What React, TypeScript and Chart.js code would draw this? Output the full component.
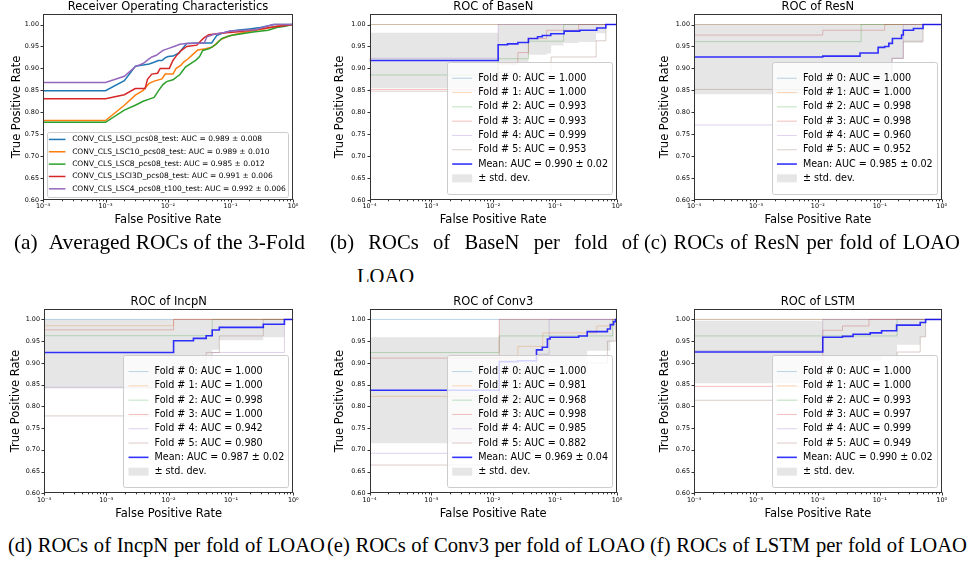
import React, { useEffect, useRef } from 'react';
import { Chart, registerables } from 'chart.js';

Chart.register(...registerables);

const FONT = '"DejaVu Sans", "Liberation Sans", sans-serif';
const SERIF = '"Liberation Serif", "Times New Roman", serif';
Chart.defaults.font.family = FONT;
Chart.defaults.color = '#000';

// ---------- axis ticks ----------
const xTickValues = [1e-4, 1e-3, 1e-2, 1e-1, 1];
const xTickLabels = ['10⁻⁴', '10⁻³', '10⁻²', '10⁻¹', '10⁰'];
const xMinorMultipliers = [2, 3, 4, 5, 6, 7, 8, 9];
const yTickValues = [0.6, 0.65, 0.7, 0.75, 0.8, 0.85, 0.9, 0.95, 1.0];
const yTickLabels = ['0.60', '0.65', '0.70', '0.75', '0.80', '0.85', '0.90', '0.95', '1.00'];
const X_MIN = 1e-4;
const X_MAX = 1;
const Y_MIN = 0.6;
const Y_MAX = 1.024;

// ---------- (a) averaged ROCs, [fpr, tpr] ----------
const lsciMean = [[1e-4, 0.849], [0.001, 0.849], [0.002, 0.872], [0.003, 0.905], [0.004, 0.908], [0.005, 0.910], [0.006, 0.914], [0.007, 0.918], [0.008, 0.918], [0.009, 0.924], [0.010, 0.927], [0.012, 0.928], [0.015, 0.935], [0.017, 0.945], [0.020, 0.957], [0.030, 0.958], [0.050, 0.958], [0.060, 0.975], [0.080, 0.982], [0.10, 0.985], [0.15, 0.988], [0.20, 0.990], [0.30, 0.993], [0.50, 1.0], [1.0, 1.0]];
const lsc10Mean = [[1e-4, 0.781], [0.001, 0.781], [0.002, 0.816], [0.003, 0.839], [0.004, 0.850], [0.005, 0.866], [0.006, 0.871], [0.008, 0.876], [0.009, 0.887], [0.012, 0.887], [0.0135, 0.900], [0.016, 0.907], [0.018, 0.915], [0.021, 0.922], [0.025, 0.932], [0.030, 0.942], [0.040, 0.945], [0.052, 0.949], [0.067, 0.964], [0.086, 0.972], [0.14, 0.980], [0.23, 0.986], [0.37, 0.991], [0.62, 0.998], [1.0, 1.0]];
const lsc8Mean = [[1e-4, 0.777], [0.001, 0.777], [0.002, 0.805], [0.003, 0.816], [0.004, 0.825], [0.005, 0.830], [0.006, 0.834], [0.0071, 0.850], [0.0083, 0.863], [0.0095, 0.870], [0.012, 0.874], [0.0155, 0.886], [0.019, 0.903], [0.023, 0.911], [0.028, 0.919], [0.032, 0.927], [0.036, 0.941], [0.046, 0.945], [0.059, 0.955], [0.072, 0.968], [0.10, 0.975], [0.23, 0.983], [0.40, 0.987], [0.55, 0.993], [0.75, 0.996], [1.0, 1.0]];
const lsci3dMean = [[1e-4, 0.831], [0.001, 0.831], [0.002, 0.840], [0.003, 0.854], [0.0043, 0.854], [0.0047, 0.875], [0.0055, 0.887], [0.0068, 0.889], [0.0075, 0.900], [0.0105, 0.900], [0.012, 0.918], [0.0135, 0.928], [0.016, 0.940], [0.020, 0.950], [0.029, 0.953], [0.033, 0.962], [0.038, 0.970], [0.045, 0.977], [0.07, 0.980], [0.12, 0.983], [0.25, 0.988], [0.45, 0.994], [0.7, 0.997], [1.0, 1.0]];
const lsc4Mean = [[1e-4, 0.868], [0.001, 0.868], [0.002, 0.882], [0.003, 0.904], [0.004, 0.911], [0.0048, 0.920], [0.0055, 0.926], [0.0065, 0.930], [0.0083, 0.941], [0.010, 0.945], [0.0125, 0.950], [0.0155, 0.955], [0.020, 0.957], [0.038, 0.958], [0.042, 0.972], [0.055, 0.978], [0.08, 0.982], [0.10, 0.985], [0.25, 0.988], [0.48, 1.0], [1.0, 1.0]];
const avgNames = ['CONV_CLS_LSCI_pcs08_test', 'CONV_CLS_LSC10_pcs08_test', 'CONV_CLS_LSC8_pcs08_test', 'CONV_CLS_LSCI3D_pcs08_test', 'CONV_CLS_LSC4_pcs08_t100_test'];
const avgAuc = [0.989, 0.989, 0.985, 0.991, 0.992];
const avgAucStd = [0.008, 0.010, 0.012, 0.006, 0.006];

// ---------- (b) BaseN ----------
const baseNFold0 = [[1e-4, 1.0], [1, 1.0]];
const baseNFold1 = [[1e-4, 1.0], [1, 1.0]];
const baseNFold2 = [[1e-4, 0.885], [0.012, 0.922], [0.037, 0.962], [0.137, 1.0], [1, 1.0]];
const baseNFold3 = [[1e-4, 0.852], [0.012, 0.911], [0.025, 0.936], [0.037, 0.968], [0.073, 0.987], [0.24, 1.0], [1, 1.0]];
const baseNFold4 = [[1e-4, 0.923], [0.012, 1.0], [1, 1.0]];
const baseNFold5 = [[1e-4, 0.848], [0.012, 0.891], [0.086, 0.926], [0.46, 0.963], [0.66, 1.0], [1, 1.0]];
const baseNMean = [[1e-4, 0.918], [0.012, 0.954], [0.017, 0.956], [0.025, 0.959], [0.037, 0.968], [0.052, 0.972], [0.062, 0.975], [0.085, 0.979], [0.14, 0.985], [0.25, 0.987], [0.47, 0.992], [0.66, 1.0], [1, 1.0]];
const baseNBand = [[1e-4, 0.855, 0.981], [0.012, 0.907, 1], [0.025, 0.914, 1], [0.037, 0.931, 1], [0.073, 0.934, 1], [0.086, 0.952, 1], [0.137, 0.958, 1], [0.24, 0.960, 1], [0.46, 0.980, 1], [0.66, 1, 1], [1, 1, 1]];
const baseNAuc = [1.000, 1.000, 0.993, 0.993, 0.999, 0.953];
const baseNMeanAuc = [0.990, 0.02];

// ---------- (c) ResN ----------
const resNFold0 = [[1e-4, 1.0], [1, 1.0]];
const resNFold1 = [[1e-4, 1.0], [1, 1.0]];
const resNFold2 = [[1e-4, 0.961], [0.05, 1.0], [1, 1.0]];
const resNFold3 = [[1e-4, 0.976], [0.012, 0.987], [0.12, 1.0], [1, 1.0]];
const resNFold4 = [[1e-4, 0.771], [0.155, 0.923], [0.24, 1.0], [1, 1.0]];
const resNFold5 = [[1e-4, 0.852], [0.16, 0.923], [0.24, 0.962], [0.5, 1.0], [1, 1.0]];
const resNMean = [[1e-4, 0.926], [0.012, 0.928], [0.048, 0.935], [0.094, 0.948], [0.12, 0.950], [0.14, 0.957], [0.16, 0.968], [0.225, 0.976], [0.24, 0.987], [0.35, 0.991], [0.5, 1.0], [1, 1.0]];
const resNBand = [[1e-4, 0.841, 1], [0.1, 0.855, 1], [0.155, 0.922, 1], [0.24, 0.958, 1], [0.5, 1, 1], [1, 1, 1]];
const resNAuc = [1.000, 1.000, 0.998, 0.998, 0.960, 0.952];
const resNMeanAuc = [0.985, 0.02];

// ---------- (d) IncpN ----------
const incpNFold0 = [[1e-4, 1.0], [1, 1.0]];
const incpNFold1 = [[1e-4, 0.9855], [0.012, 1.0], [1, 1.0]];
const incpNFold2 = [[1e-4, 0.9626], [0.05, 1.0], [1, 1.0]];
const incpNFold3 = [[1e-4, 0.976], [0.012, 1.0], [1, 1.0]];
const incpNFold4 = [[1e-4, 0.844], [0.025, 0.88], [0.05, 0.924], [0.72, 1.0], [1, 1.0]];
const incpNFold5 = [[1e-4, 0.778], [0.012, 0.889], [0.04, 0.924], [0.065, 0.962], [0.33, 1.0], [1, 1.0]];
const incpNMean = [[1e-4, 0.924], [0.012, 0.951], [0.025, 0.9565], [0.04, 0.9626], [0.05, 0.9756], [0.065, 0.9817], [0.33, 0.989], [0.72, 1.0], [1, 1.0]];
const incpNBand = [[1e-4, 0.841, 1], [0.012, 0.886, 1], [0.025, 0.896, 1], [0.04, 0.908, 1], [0.05, 0.930, 1], [0.065, 0.952, 1], [0.33, 0.959, 1], [0.72, 1, 1], [1, 1, 1]];
const incpNAuc = [1.000, 1.000, 0.998, 1.000, 0.942, 0.980];
const incpNMeanAuc = [0.987, 0.02];

// ---------- (e) Conv3 ----------
const conv3Fold0 = [[1e-4, 1.0], [1, 1.0]];
const conv3Fold1 = [[1e-4, 0.823], [0.0125, 0.912], [0.025, 0.938], [0.063, 0.969], [0.47, 0.985], [0.85, 1.0], [1, 1.0]];
const conv3Fold2 = [[1e-4, 0.924], [0.0125, 0.962], [0.85, 1.0], [1, 1.0]];
const conv3Fold3 = [[1e-4, 0.911], [0.0125, 1.0], [1, 1.0]];
const conv3Fold4 = [[1e-4, 0.692], [0.0125, 0.86], [0.05, 0.92], [0.08, 1.0], [1, 1.0]];
const conv3Fold5 = [[1e-4, 0.665], [0.0125, 0.70], [0.05, 0.80], [0.08, 0.88], [0.33, 0.90], [0.7, 0.95], [0.95, 1.0], [1, 1.0]];
const conv3Mean = [[1e-4, 0.837], [0.0125, 0.903], [0.025, 0.905], [0.05, 0.930], [0.062, 0.936], [0.075, 0.955], [0.083, 0.959], [0.24, 0.962], [0.33, 0.972], [0.70, 0.978], [0.78, 0.988], [0.88, 0.995], [0.95, 1.0], [1, 1.0]];
const conv3Band = [[1e-4, 0.715, 0.959], [0.0125, 0.80, 1], [0.05, 0.865, 1], [0.08, 0.89, 1], [0.33, 0.928, 1], [0.78, 0.95, 1], [0.9, 0.975, 1], [0.95, 1, 1], [1, 1, 1]];
const conv3Auc = [1.000, 0.981, 0.968, 0.998, 0.985, 0.882];
const conv3MeanAuc = [0.969, 0.04];

// ---------- (f) LSTM ----------
const lstmFold0 = [[1e-4, 1.0], [1, 1.0]];
const lstmFold1 = [[1e-4, 1.0], [1, 1.0]];
const lstmFold2 = [[1e-4, 0.962], [0.19, 1.0], [1, 1.0]];
const lstmFold3 = [[1e-4, 0.846], [0.012, 0.975], [0.025, 0.985], [0.067, 1.0], [1, 1.0]];
const lstmFold4 = [[1e-4, 0.928], [0.012, 1.0], [1, 1.0]];
const lstmFold5 = [[1e-4, 0.814], [0.19, 0.925], [0.45, 0.96], [0.55, 1.0], [1, 1.0]];
const lstmMean = [[1e-4, 0.925], [0.012, 0.959], [0.025, 0.961], [0.037, 0.966], [0.07, 0.969], [0.107, 0.974], [0.187, 0.987], [0.45, 0.993], [0.55, 1.0], [1, 1.0]];
const lstmBand = [[1e-4, 0.853, 0.997], [0.012, 0.890, 1], [0.04, 0.898, 1], [0.067, 0.905, 1], [0.107, 0.915, 1], [0.19, 0.942, 1], [0.45, 0.960, 1], [0.55, 1, 1], [1, 1, 1]];
const lstmAuc = [1.000, 1.000, 0.993, 0.997, 0.999, 0.949];
const lstmMeanAuc = [0.990, 0.02];

// ---------- styles ----------
const TAB10 = ['#1f77b4', '#ff7f0e', '#2ca02c', '#d62728', '#9467bd'];
const FOLD_COLORS = ['rgba(31,119,180,0.3)', 'rgba(255,127,14,0.3)', 'rgba(44,160,44,0.3)', 'rgba(214,39,40,0.3)', 'rgba(148,103,189,0.3)', 'rgba(140,86,75,0.3)'];
const MEAN_COLOR = 'rgba(0,0,255,0.8)';
const BAND_COLOR = 'rgba(128,128,128,0.2)';
const SPINE = '#333333';
const TITLE_SIZE = 11.5;
const LABEL_SIZE = 11.5;
const TICK_SIZE = 6.4;

type LegendItem = { label: string; color: string; width: number; kind: 'line' | 'patch' };
type LegendCfg = {
  items: LegendItem[]; fontSize: number; rowH: number; padV: number; sample: [number, number];
  textOff: number; padR: number; insetR: number; insetB: number; patchH: number;
};
type Geom = { canvas: [number, number, number, number]; area: [number, number, number, number]; yLabelX: number; xLabelY: number };
type Line = { data: number[][]; color: string; width: number; stepped: boolean };
type PanelCfg = { key: string; title: string; geom: Geom; lines: Line[]; band?: number[][]; legend: LegendCfg };

const topRow = 0;
const botRow = 290;
const GEOM: Record<string, Geom> = {
  a: { canvas: [0, topRow, 305, 232], area: [43, 14, 293, 200], yLabelX: 16.7, xLabelY: 220 },
  b: { canvas: [320, topRow, 309, 232], area: [369.5, 14, 617, 200], yLabelX: 340, xLabelY: 220 },
  c: { canvas: [640, topRow, 314, 232], area: [694, 14, 941.7, 200], yLabelX: 665, xLabelY: 220 },
  d: { canvas: [0, botRow, 305, 232], area: [44, 309, 293.3, 493.3], yLabelX: 16, xLabelY: 514 },
  e: { canvas: [320, botRow, 309, 232], area: [369.5, 309, 617, 493.3], yLabelX: 340.5, xLabelY: 514 },
  f: { canvas: [640, botRow, 314, 232], area: [694, 309, 941.7, 493.3], yLabelX: 665, xLabelY: 514 },
};

function foldLegend(aucs: number[], meanAuc: number[]): LegendCfg {
  const items: LegendItem[] = aucs.map((a, i) => ({ label: `Fold # ${i}: AUC = ${a.toFixed(3)}`, color: FOLD_COLORS[i], width: 1, kind: 'line' }));
  items.push({ label: `Mean: AUC = ${meanAuc[0].toFixed(3)} ± ${meanAuc[1].toFixed(2)}`, color: MEAN_COLOR, width: 1.6, kind: 'line' });
  items.push({ label: '± std. dev.', color: BAND_COLOR, width: 0, kind: 'patch' });
  return { items, fontSize: 9.6, rowH: 14.3, padV: 9, sample: [5, 25], textOff: 31, padR: 4.5, insetR: 4.5, insetB: 5.5, patchH: 8 };
}

function foldPanel(key: string, title: string, folds: number[][][], mean: number[][], band: number[][], aucs: number[], meanAuc: number[]): PanelCfg {
  const lines: Line[] = [{ data: mean, color: MEAN_COLOR, width: 1.6, stepped: true }];
  for (let i = folds.length - 1; i >= 0; i--) lines.push({ data: folds[i], color: FOLD_COLORS[i], width: 1, stepped: true });
  return { key, title, geom: GEOM[key], lines, band, legend: foldLegend(aucs, meanAuc) };
}

const avgSeries = [lsciMean, lsc10Mean, lsc8Mean, lsci3dMean, lsc4Mean];

const PANELS: PanelCfg[] = [
  {
    key: 'a', title: 'Receiver Operating Characteristics', geom: GEOM.a,
    lines: avgSeries.map((d, i) => ({ data: d, color: TAB10[i], width: 1.5, stepped: false })).reverse(),
    legend: {
      items: avgNames.map((n, i) => ({ label: `${n}: AUC = ${avgAuc[i].toFixed(3)} ± ${avgAucStd[i].toFixed(3)}`, color: TAB10[i], width: 1.5, kind: 'line' as const })),
      fontSize: 7.5, rowH: 12.35, padV: 1.7, sample: [1.7, 18.3], textOff: 25, padR: 2.3, insetR: 5, insetB: 3.3, patchH: 6,
    },
  },
  foldPanel('b', 'ROC of BaseN', [baseNFold0, baseNFold1, baseNFold2, baseNFold3, baseNFold4, baseNFold5], baseNMean, baseNBand, baseNAuc, baseNMeanAuc),
  foldPanel('c', 'ROC of ResN', [resNFold0, resNFold1, resNFold2, resNFold3, resNFold4, resNFold5], resNMean, resNBand, resNAuc, resNMeanAuc),
  foldPanel('d', 'ROC of IncpN', [incpNFold0, incpNFold1, incpNFold2, incpNFold3, incpNFold4, incpNFold5], incpNMean, incpNBand, incpNAuc, incpNMeanAuc),
  foldPanel('e', 'ROC of Conv3', [conv3Fold0, conv3Fold1, conv3Fold2, conv3Fold3, conv3Fold4, conv3Fold5], conv3Mean, conv3Band, conv3Auc, conv3MeanAuc),
  foldPanel('f', 'ROC of LSTM', [lstmFold0, lstmFold1, lstmFold2, lstmFold3, lstmFold4, lstmFold5], lstmMean, lstmBand, lstmAuc, lstmMeanAuc),
];

function drawLegend(ctx: CanvasRenderingContext2D, ca: any, lg: LegendCfg) {
  ctx.save();
  ctx.font = `${lg.fontSize}px ${FONT}`;
  const maxW = Math.max(...lg.items.map((it) => ctx.measureText(it.label).width));
  const w = lg.textOff + maxW + lg.padR;
  const h = lg.items.length * lg.rowH + lg.padV * 2;
  const right = ca.right - lg.insetR;
  const bottom = ca.bottom - lg.insetB;
  const left = right - w;
  const top = bottom - h;
  ctx.beginPath();
  (ctx as any).roundRect(Math.round(left) + 0.5, Math.round(top) + 0.5, Math.round(w), Math.round(h), 2);
  ctx.fillStyle = 'rgba(255,255,255,0.8)';
  ctx.fill();
  ctx.strokeStyle = '#cccccc';
  ctx.lineWidth = 1;
  ctx.stroke();
  lg.items.forEach((it, i) => {
    const cy = top + lg.padV + lg.rowH * (i + 0.5);
    if (it.kind === 'patch') {
      ctx.fillStyle = it.color;
      ctx.fillRect(left + lg.sample[0], cy - lg.patchH / 2, lg.sample[1] - lg.sample[0], lg.patchH);
    } else {
      ctx.strokeStyle = it.color;
      ctx.lineWidth = it.width;
      ctx.beginPath();
      ctx.moveTo(left + lg.sample[0], cy);
      ctx.lineTo(left + lg.sample[1], cy);
      ctx.stroke();
    }
    ctx.fillStyle = '#000';
    ctx.textAlign = 'left';
    ctx.textBaseline = 'middle';
    ctx.fillText(it.label, left + lg.textOff, cy);
  });
  ctx.restore();
}

function makeDecor(cfg: PanelCfg) {
  return {
    id: 'decor_' + cfg.key,
    afterDatasetsDraw(chart: any) {
      const { ctx, chartArea: ca } = chart;
      const xs = chart.scales.x;
      const ys = chart.scales.y;
      drawLegend(ctx, ca, cfg.legend);
      ctx.save();
      ctx.strokeStyle = SPINE;
      ctx.lineWidth = 1;
      const L = Math.round(ca.left) + 0.5;
      const R = Math.round(ca.right) - 0.5;
      const T = Math.round(ca.top) + 0.5;
      const B = Math.round(ca.bottom) - 0.5;
      ctx.strokeRect(L, T, R - L, B - T);
      ctx.beginPath();
      xTickValues.forEach((v) => {
        const px = Math.round(xs.getPixelForValue(v)) + 0.5;
        ctx.moveTo(px, B); ctx.lineTo(px, B + 3);
      });
      xTickValues.slice(0, -1).forEach((v) => {
        xMinorMultipliers.forEach((m) => {
          const px = Math.round(xs.getPixelForValue(v * m)) + 0.5;
          ctx.moveTo(px, B); ctx.lineTo(px, B + 1.8);
        });
      });
      yTickValues.forEach((v) => {
        const py = Math.round(ys.getPixelForValue(v)) + 0.5;
        ctx.moveTo(L, py); ctx.lineTo(L - 3, py);
      });
      ctx.stroke();
      ctx.restore();
    },
  };
}

function buildConfig(cfg: PanelCfg): any {
  const g = cfg.geom;
  const [cx, cy, cw, ch] = g.canvas;
  const [l, t, r, b] = g.area;
  const titleLH = TITLE_SIZE * 1.2;
  const titleCenter = t - 7;
  const tPadTop = Math.max(0, titleCenter - cy - titleLH / 2);
  const tPadBottom = Math.max(0, t - cy - titleLH - tPadTop);
  const labelLH = LABEL_SIZE * 1.2;
  const datasets: any[] = [];
  const toPts = (d: number[][], k: number) => d.map((p) => ({ x: p[0], y: p[k] }));
  cfg.lines.forEach((ln) => {
    datasets.push({
      data: toPts(ln.data, 1), borderColor: ln.color, borderWidth: ln.width, pointRadius: 0,
      stepped: ln.stepped ? 'before' : false, fill: false, tension: 0,
    });
  });
  if (cfg.band) {
    datasets.splice(1, 0,
      { data: toPts(cfg.band, 2), borderColor: 'rgba(0,0,0,0)', borderWidth: 0, pointRadius: 0, stepped: 'before', fill: '+1', backgroundColor: BAND_COLOR },
      { data: toPts(cfg.band, 1), borderColor: 'rgba(0,0,0,0)', borderWidth: 0, pointRadius: 0, stepped: 'before', fill: false },
    );
  }
  return {
    type: 'line',
    data: { datasets },
    options: {
      animation: false,
      responsive: false,
      maintainAspectRatio: false,
      devicePixelRatio: 1,
      events: [],
      layout: { padding: { left: 0, top: 0, bottom: 0, right: cx + cw - r } },
      plugins: {
        legend: { display: false },
        tooltip: { enabled: false },
        title: {
          display: true, text: cfg.title, fullSize: false, color: '#000',
          font: { family: FONT, size: TITLE_SIZE, weight: 'normal', lineHeight: 1.2 },
          padding: { top: tPadTop, bottom: tPadBottom },
        },
      },
      scales: {
        x: {
          type: 'logarithmic', min: X_MIN, max: X_MAX,
          grid: { display: false, drawTicks: false },
          border: { display: false },
          afterBuildTicks: (s: any) => { s.ticks = xTickValues.map((v) => ({ value: v, major: true })); },
          afterFit: (s: any) => { s.height = cy + ch - b; },
          ticks: {
            autoSkip: false, maxRotation: 0, minRotation: 0, padding: 3, color: '#000',
            font: { family: FONT, size: TICK_SIZE },
            callback: (_v: any, i: number) => xTickLabels[i],
          },
          title: {
            display: true, text: 'False Positive Rate', color: '#000',
            font: { family: FONT, size: LABEL_SIZE, lineHeight: 1.2 },
            padding: { top: 0, bottom: Math.max(0, cy + ch - g.xLabelY - labelLH / 2) },
          },
        },
        y: {
          type: 'linear', min: Y_MIN, max: Y_MAX,
          grid: { display: false, drawTicks: false },
          border: { display: false },
          afterBuildTicks: (s: any) => { s.ticks = yTickValues.map((v) => ({ value: v })); },
          afterFit: (s: any) => { s.width = l - cx; },
          ticks: {
            autoSkip: false, padding: 4, color: '#000',
            font: { family: FONT, size: TICK_SIZE },
            callback: (_v: any, i: number) => yTickLabels[i],
          },
          title: {
            display: true, text: 'True Positive Rate', color: '#000',
            font: { family: FONT, size: LABEL_SIZE, lineHeight: 1.2 },
            padding: { top: Math.max(0, g.yLabelX - cx - labelLH / 2), bottom: 0 },
          },
        },
      },
    },
    plugins: [makeDecor(cfg)],
  };
}

function Panel({ cfg }: { cfg: PanelCfg }) {
  const ref = useRef<HTMLCanvasElement>(null);
  useEffect(() => {
    const chart = new Chart(ref.current as HTMLCanvasElement, buildConfig(cfg));
    return () => chart.destroy();
  }, [cfg]);
  const [x, y, w, h] = cfg.geom.canvas;
  return <canvas ref={ref} width={w} height={h} style={{ position: 'absolute', left: x, top: y, width: w, height: h }} />;
}

type Caption = { words: string[]; left: number; top: number; width: number; size: number };
const CAPTIONS: Caption[] = [
  { words: ['(a)', 'Averaged ROCs of the 3-Fold'], left: 14, top: 230, width: 291, size: 21.4 },
  { words: ['(b)', 'ROCs', 'of', 'BaseN', 'per', 'fold', 'of'], left: 330, top: 230, width: 309, size: 20.6 },
  { words: ['(c)', 'ROCs', 'of', 'ResN', 'per', 'fold', 'of', 'LOAO'], left: 644, top: 230, width: 316, size: 20.6 },
  { words: ['(d)', 'ROCs', 'of', 'IncpN', 'per', 'fold', 'of', 'LOAO'], left: 8, top: 533, width: 317, size: 20.6 },
  { words: ['(e)', 'ROCs', 'of', 'Conv3', 'per', 'fold', 'of', 'LOAO'], left: 327, top: 533, width: 318, size: 20.6 },
  { words: ['(f)', 'ROCs', 'of', 'LSTM', 'per', 'fold', 'of', 'LOAO'], left: 650, top: 533, width: 317, size: 20.6 },
];

export default function App() {
  return (
    <div style={{ position: 'absolute', left: 0, top: 0, width: 974, height: 562, background: '#fff', overflow: 'hidden' }}>
      {PANELS.map((p) => <Panel key={p.key} cfg={p} />)}
      {CAPTIONS.map((c, i) => (
        <div key={i} style={{
          position: 'absolute', left: c.left, top: c.top, width: c.width, height: 24,
          display: 'flex', justifyContent: 'space-between', whiteSpace: 'pre',
          fontFamily: SERIF, fontSize: c.size, lineHeight: '24px', color: '#000',
        }}>
          {c.words.map((w, j) => <span key={j}>{w}</span>)}
        </div>
      ))}
      <div style={{ position: 'absolute', left: 357, top: 264, height: 18, overflow: 'hidden', fontFamily: SERIF, fontSize: 20.6, lineHeight: '24px', color: '#000', whiteSpace: 'nowrap' }}>
        LOAO
      </div>
    </div>
  );
}
